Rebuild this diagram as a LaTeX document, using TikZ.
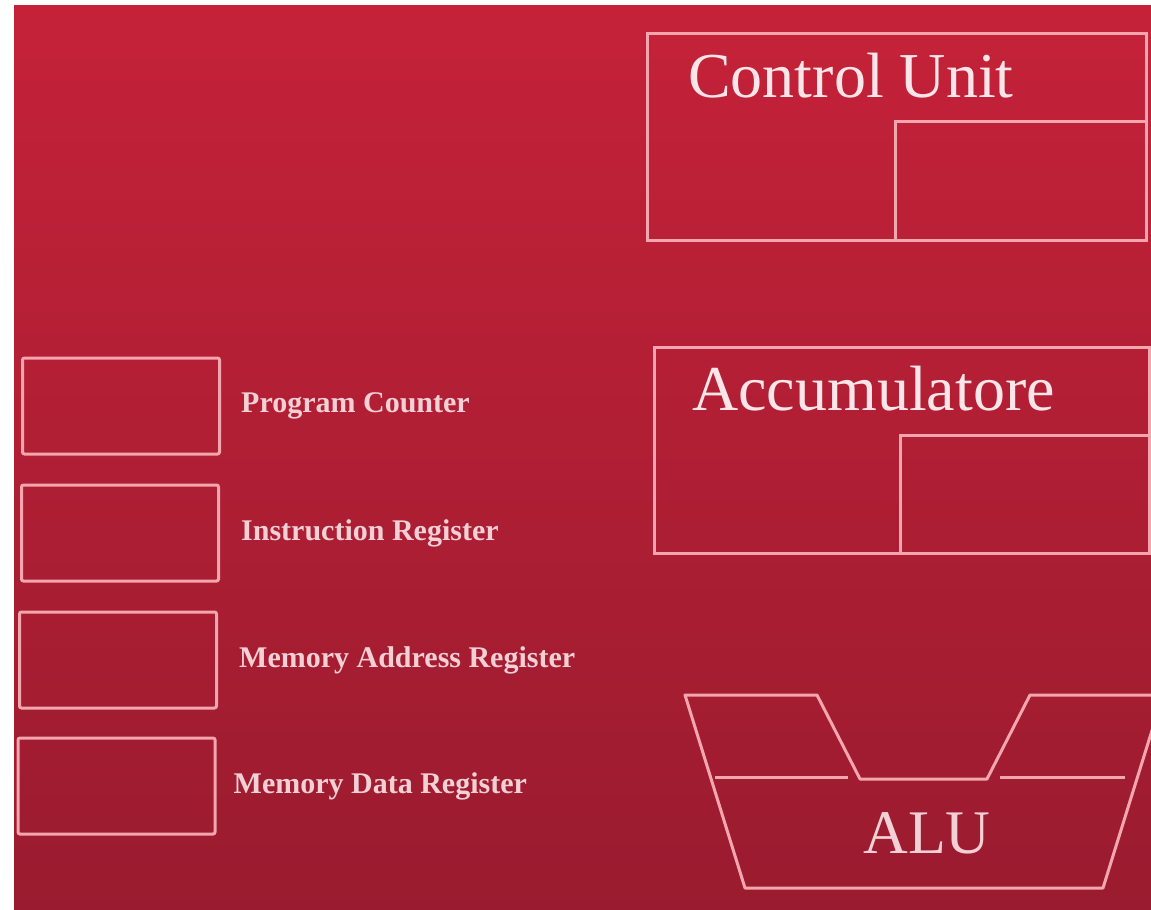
\documentclass[tikz,border=0pt]{standalone}
\usepackage{fontspec}
\setmainfont{Liberation Serif}
\usetikzlibrary{positioning,calc}
\definecolor{bgtop}{RGB}{197,34,57}
\definecolor{bgmid}{RGB}{193,33,56}
\definecolor{bgbot}{RGB}{154,27,47}
\definecolor{linepink}{RGB}{244,166,174}
\definecolor{titlepink}{RGB}{251,229,232}
\definecolor{labelpink}{RGB}{243,208,213}

\begin{document}
\begin{tikzpicture}[
    x=1pt, y=-1pt,
    regbox/.style={rectangle, draw=linepink, line width=3pt, rounded corners=2pt, minimum width=197pt, minimum height=96pt, inner sep=0pt},
    reglabel/.style={font=\fontsize{30}{36}\selectfont\bfseries, text=labelpink, inner sep=0pt},
    unitbox/.style={rectangle, draw=linepink, line width=3pt, inner sep=0pt},
    unitlabel/.style={font=\fontsize{64}{76}\selectfont, text=titlepink, inner sep=0pt, anchor=base west}
]

% sfondo
\useasboundingbox[fill=white] (0,0) rectangle (1151,910);
\shade[top color=bgtop, middle color=bgmid, bottom color=bgbot] (14,5) rectangle (1151,910);

% registri
\node[regbox] (pc) at (121,406) {};
\node[regbox, below=28pt of pc, xshift=-1pt] (ir) {};
\node[regbox, below=28pt of ir, xshift=-2pt] (mar) {};
\node[regbox, below=27pt of mar, xshift=-1.5pt] (mdr) {};

\node[reglabel, right=20pt of pc] (pclbl) {Program Counter};
\node[reglabel, right=21pt of ir] (irlbl) {Instruction Register};
\node[reglabel, right=21pt of mar] (marlbl) {Memory Address Register};
\node[reglabel, right=17pt of mdr] (mdrlbl) {Memory Data Register};

% unita di controllo
\node[unitbox, minimum width=499pt, minimum height=207pt] (cu) at (896.5,136.5) {};
\node[unitbox, anchor=south east, minimum width=251pt, minimum height=119pt] (cuin) at (cu.south east) {};
\node[unitlabel] (cutitle) at (688,97) {Control Unit};

% accumulatore
\node[unitbox, minimum width=495pt, minimum height=206pt] (acc) at (901.5,450) {};
\node[unitbox, anchor=south east, minimum width=249pt, minimum height=118pt] (accin) at (acc.south east) {};
\node[unitlabel] (acctitle) at (692,410) {Accumulatore};

% ALU
\draw[linepink, line width=3pt, line join=round]
    (685,695) -- (817,695) -- (860,779) -- (987,779) -- (1030,695)
    -- (1163,695) -- (1103,888) -- (745,888) -- cycle;
\draw[linepink, line width=3pt] (715,777) -- (848,777);
\draw[linepink, line width=3pt] (1000,777) -- (1125,777);
\node[font=\fontsize{62}{74}\selectfont, text=labelpink, inner sep=0pt, anchor=base] (alu) at (927,853) {ALU};

\end{tikzpicture}
\end{document}
